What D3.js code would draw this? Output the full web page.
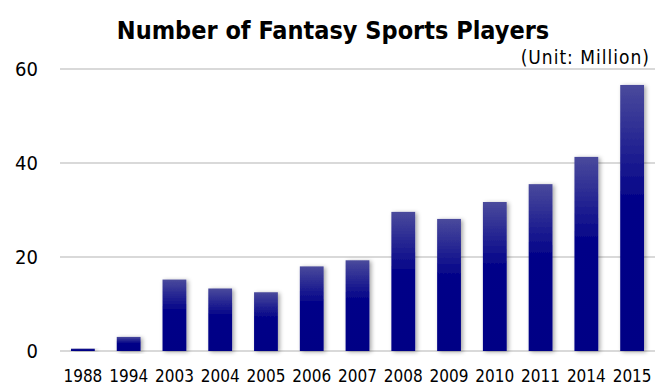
<!DOCTYPE html>
<html><head><meta charset="utf-8">
<script src="https://cdn.jsdelivr.net/npm/d3@7"></script>
<style>body{margin:0;background:#fff}svg{display:block}text{font-family:"DejaVu Sans Condensed","DejaVu Sans",sans-serif}</style>
</head><body><svg id="c" width="664" height="388"></svg>
<script>
const years = ["1988","1994","2003","2004","2005","2006","2007","2008","2009","2010","2011","2014","2015"];
const players = [0.5,3.0,15.2,13.3,12.5,18.0,19.3,29.6,28.1,31.7,35.5,41.3,56.6];
const yTicks = [0,20,40,60];
const title = "Number of Fantasy Sports Players";
const unit = "(Unit: Million)";

const svg = d3.select("#c");
const x = d3.scaleBand().domain(years).range([60,655]).paddingInner(0.48).paddingOuter(0.24);
const y = d3.scaleLinear().domain([0,60]).range([351,69]);

const defs = svg.append("defs");
const g = defs.append("linearGradient").attr("id","bg").attr("x1",0).attr("y1",0).attr("x2",0).attr("y2",1);
g.append("stop").attr("offset","0%").attr("stop-color","#4a4a9c");
g.append("stop").attr("offset","45%").attr("stop-color","#000088");
g.append("stop").attr("offset","100%").attr("stop-color","#000085");
const f = defs.append("filter").attr("id","sh").attr("x","-50%").attr("y","-20%").attr("width","200%").attr("height","140%");
f.append("feDropShadow").attr("dx",2).attr("dy",1).attr("stdDeviation",2).attr("flood-color","#000").attr("flood-opacity",0.35);

// grid
svg.append("g").selectAll("line").data(yTicks).join("line")
  .attr("x1",60).attr("x2",655).attr("y1",d=>y(d)).attr("y2",d=>y(d))
  .attr("stroke","#d9d9d9").attr("stroke-width",2);

// y axis labels
const ya = svg.append("g").attr("transform","translate(38,0)")
  .call(d3.axisLeft(y).tickValues(yTicks).tickSize(0).tickPadding(0));
ya.select(".domain").remove();
ya.selectAll("text").attr("font-size",20).attr("fill","#000").attr("font-family",'"DejaVu Sans Condensed",sans-serif');

// bars
svg.append("g").selectAll("rect").data(years).join("rect")
  .attr("x",d=>x(d)).attr("width",x.bandwidth())
  .attr("y",(d,i)=>y(players[i])).attr("height",(d,i)=>y(0)-y(players[i]))
  .attr("fill","url(#bg)").attr("filter","url(#sh)");

// x axis labels
const xa = svg.append("g").attr("transform","translate(0,382)")
  .call(d3.axisBottom(x).tickSize(0).tickPadding(0));
xa.select(".domain").remove();
xa.selectAll("text").attr("font-size",17).attr("fill","#000").attr("y",0).attr("dy",0).attr("font-family",'"DejaVu Sans Condensed",sans-serif');

svg.append("text").attr("x",333).attr("y",39).attr("text-anchor","middle")
  .attr("font-size",25).attr("font-weight","bold").text(title);
svg.append("text").attr("x",650).attr("y",64).attr("text-anchor","end")
  .attr("font-family",'"DejaVu Sans",sans-serif').attr("letter-spacing",1)
  .attr("font-size",19).text(unit);
</script></body></html>
